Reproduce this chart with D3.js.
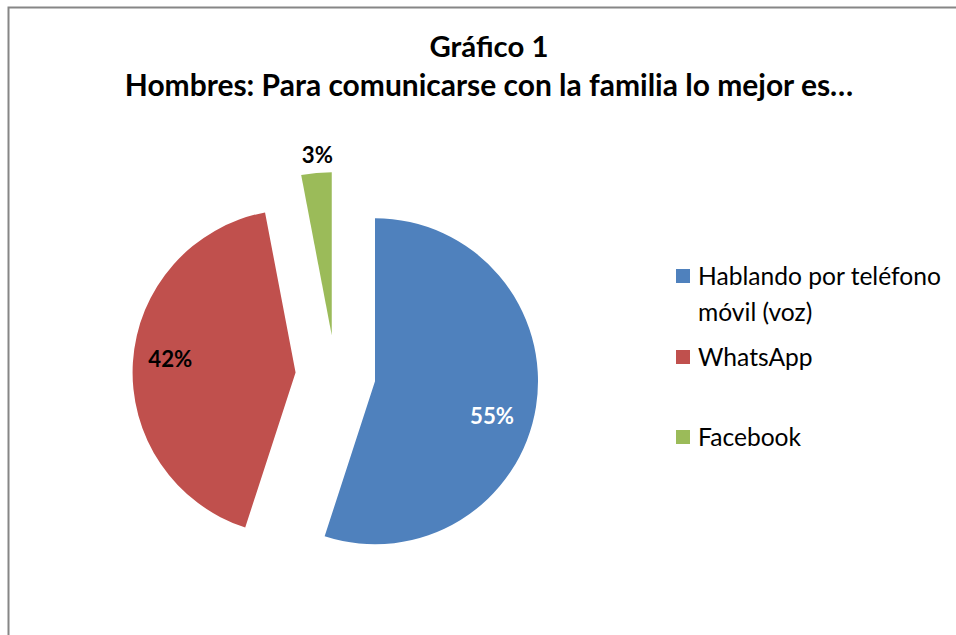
<!DOCTYPE html>
<html>
<head>
<meta charset="utf-8">
<script src="https://cdn.jsdelivr.net/npm/d3@7"></script>
<style>
  body { margin: 0; background: #fff; }
  text { font-family: Lato, "Open Sans", sans-serif; }
</style>
</head>
<body>
<div id="chart"></div>
<script>
// data
const categories = ["Hablando por teléfono móvil (voz)", "WhatsApp", "Facebook"];
const values = [55, 42, 3];
const labels = ["55%", "42%", "3%"];
const legendLines = [["Hablando por teléfono", "móvil (voz)"], ["WhatsApp"], ["Facebook"]];
const colors = ["#4f81bd", "#c0504d", "#9bbb59"];

const width = 956, height = 635;
const cx = 335.5, cy = 375, radius = 163, explode = 40;

// scale a text's font size so that it spans a given width
function fitWidth(sel, target) {
  const n = sel.node();
  const s = parseFloat(sel.attr("font-size"));
  const w = n.getComputedTextLength();
  sel.attr("font-size", s * target / w);
}

const svg = d3.select("#chart")
  .append("svg")
    .attr("width", width)
    .attr("height", height);

// chart border (top and left visible)
svg.append("path")
  .attr("d", `M8.5,${height} V7.5 H${width}`)
  .attr("fill", "none")
  .attr("stroke", "#868686")
  .attr("stroke-width", 2);

// title
const t1 = svg.append("text")
  .attr("x", 489).attr("y", 57)
  .attr("text-anchor", "middle")
  .attr("font-weight", "bold")
  .attr("font-size", 24)
  .text("Gráfico 1");
fitWidth(t1, 119);
const t2 = svg.append("text")
  .attr("x", 489).attr("y", 96)
  .attr("text-anchor", "middle")
  .attr("font-weight", "bold")
  .attr("font-size", 24)
  .text("Hombres: Para comunicarse con la familia lo mejor es…");
fitWidth(t2, 729);

const pie = d3.pie().sort(null).value(d => d);
const arcs = pie(values);
const arc = d3.arc().innerRadius(0).outerRadius(radius);

const g = svg.append("g").attr("transform", `translate(${cx},${cy})`);

const slices = g.selectAll("g.slice")
  .data(arcs)
  .join("g")
    .attr("class", "slice")
    .attr("transform", d => {
      const a = (d.startAngle + d.endAngle) / 2;
      return `translate(${explode * Math.sin(a)},${-explode * Math.cos(a)})`;
    });

slices.append("path")
  .attr("d", arc)
  .attr("fill", (d, i) => colors[i]);

// data labels: radius and angle nudge per slice
const labelR = [122, 126, radius + 18];
const labelTurn = [0.13, 0.04, 0.015];
const lab = slices.append("text")
  .attr("transform", (d, i) => {
    const a = (d.startAngle + d.endAngle) / 2 + labelTurn[i];
    return `translate(${labelR[i] * Math.sin(a)},${-labelR[i] * Math.cos(a)})`;
  })
  .attr("text-anchor", "middle")
  .attr("dy", "0.35em")
  .attr("font-weight", "bold")
  .attr("font-size", 21)
  .attr("fill", (d, i) => i === 0 ? "#fff" : "#000")
  .text((d, i) => labels[i]);
fitWidth(lab.filter((d, i) => i === 0), 44);
lab.filter((d, i) => i > 0).attr("font-size", lab.filter((d, i) => i === 0).attr("font-size"));

// legend
const legendY = [276, 357, 437];
const legend = svg.append("g")
  .selectAll("g")
  .data(categories)
  .join("g")
    .attr("transform", (d, i) => `translate(676,${legendY[i]})`);

legend.append("rect")
  .attr("x", 0).attr("y", -7)
  .attr("width", 14).attr("height", 14)
  .attr("fill", (d, i) => colors[i]);

const legText = legend.append("text")
  .attr("font-size", 21)
  .attr("fill", "#000");
legText.selectAll("tspan")
  .data((d, i) => legendLines[i])
  .join("tspan")
    .attr("x", 22)
    .attr("y", (d, j) => j * 36)
    .attr("dy", "0.35em")
    .text(d => d);
// size from the widest line
const firstLine = legText.filter((d, i) => i === 0).select("tspan");
const fs = 21 * 243 / firstLine.node().getComputedTextLength();
legText.attr("font-size", fs);
</script>
</body>
</html>
